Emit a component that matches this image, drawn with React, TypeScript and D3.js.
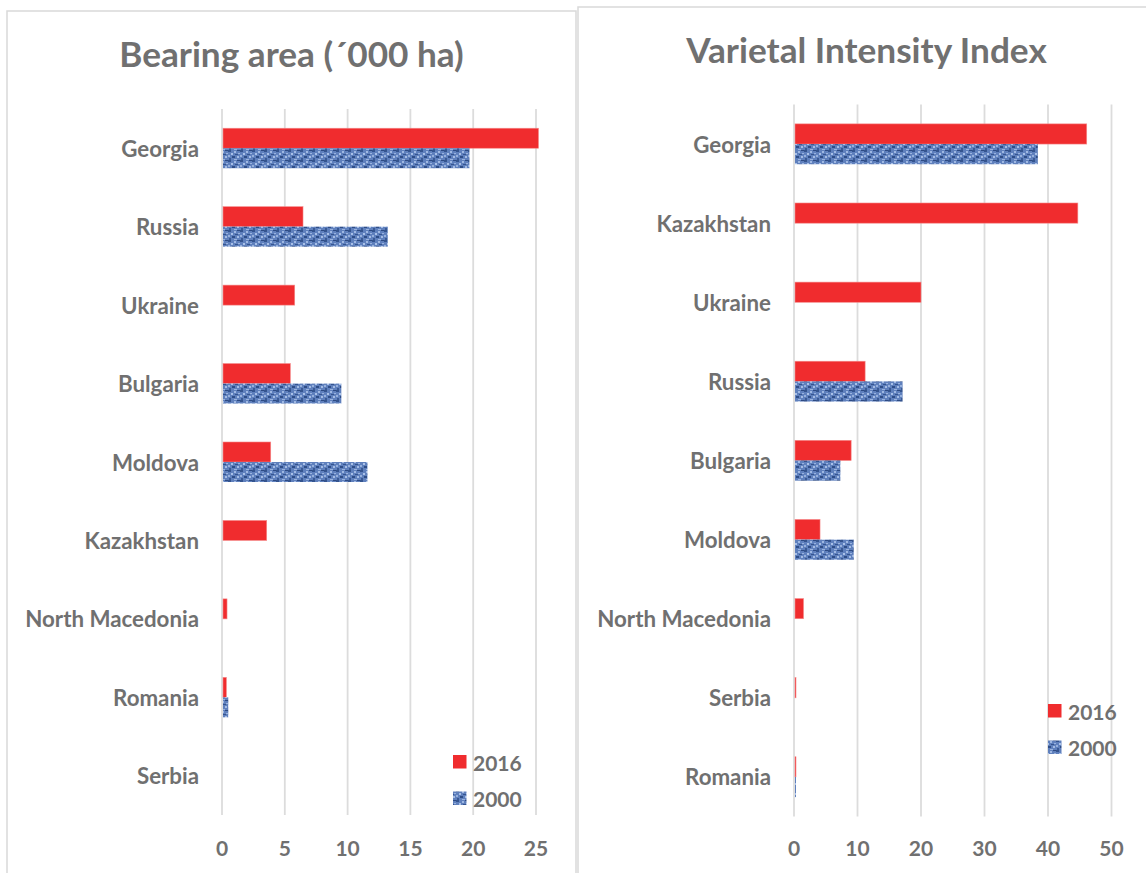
import React from "react";
import * as d3 from "d3";

const leftTitle = "Bearing area (´000 ha)";
const leftCategories = ["Georgia", "Russia", "Ukraine", "Bulgaria", "Moldova", "Kazakhstan", "North Macedonia", "Romania", "Serbia"];
const left2016 = [25.2, 6.45, 5.79, 5.44, 3.88, 3.56, 0.4, 0.35, 0];
const left2000 = [19.7, 13.2, 0, 9.5, 11.58, 0, 0, 0.5, 0];
const leftTicks = [0, 5, 10, 15, 20, 25];

const rightTitle = "Varietal Intensity Index";
const rightCategories = ["Georgia", "Kazakhstan", "Ukraine", "Russia", "Bulgaria", "Moldova", "North Macedonia", "Serbia", "Romania"];
const right2016 = [46.1, 44.7, 20, 11.2, 9.0, 4.1, 1.5, 0.25, 0.2];
const right2000 = [38.4, 0, 0, 17.1, 7.3, 9.4, 0, 0, 0.2];
const rightTicks = [0, 10, 20, 30, 40, 50];

const seriesNames = ["2016", "2000"];

const TEXT = "#707070";
const GRID = "#dcdcdc";
const RED = "#f02c2e";
const FONT = "Lato, 'Open Sans', sans-serif";

type PanelProps = {
  frame: { x: number; y: number; w: number; h: number };
  title: string;
  titleY: number;
  titleSize: number;
  categories: string[];
  a: number[];
  b: number[];
  ticks: number[];
  x0: number;
  x1: number;
  top: number;
  bottom: number;
  labelX: number;
  tickY: number;
  legend: { x: number; y: number };
};

function Panel(p: PanelProps) {
  const xs = d3.scaleLinear().domain([p.ticks[0], p.ticks[p.ticks.length - 1]]).range([p.x0, p.x1]);
  const ys = d3.scaleBand<string>().domain(p.categories).range([p.top, p.bottom]).paddingInner(0.49).paddingOuter(0.245);
  const sub = d3.scaleBand<string>().domain(seriesNames).range([0, ys.bandwidth()]);
  const fills = ["url(#redfill)", "url(#denim)"];
  return (
    <g>
      <rect x={p.frame.x} y={p.frame.y} width={p.frame.w} height={p.frame.h} fill="#fff" stroke="#d9d9d9" strokeWidth={1.5} />
      <text x={p.frame.x + p.frame.w / 2} y={p.titleY} textAnchor="middle" fill={TEXT} fontFamily={FONT} fontWeight={700} fontSize={p.titleSize}>
        {p.title}
      </text>
      {p.ticks.map((t) => (
        <g key={t}>
          <line x1={xs(t)} x2={xs(t)} y1={p.top} y2={p.bottom} stroke={GRID} strokeWidth={1.8} />
          <text x={xs(t)} y={p.tickY} textAnchor="middle" dominantBaseline="central" fill={TEXT} fontFamily={FONT} fontWeight={700} fontSize={21}>
            {t}
          </text>
        </g>
      ))}
      {p.categories.map((c, i) => (
        <g key={c}>
          <text x={p.labelX} y={(ys(c) as number) + ys.bandwidth() / 2} textAnchor="end" dominantBaseline="central" fill={TEXT} fontFamily={FONT} fontWeight={700} fontSize={22.3}>
            {c}
          </text>
          {[p.a[i], p.b[i]].map((v, k) =>
            v > 0 ? (
              <rect
                key={k}
                x={xs(0) + 1}
                y={(ys(c) as number) + (sub(seriesNames[k]) as number)}
                width={Math.max(xs(v) - xs(0) - 1, 1)}
                height={sub.bandwidth()}
                fill={fills[k]}
                stroke={k === 0 ? "#f58a8a" : "none"}
                strokeWidth={0.6}
              />
            ) : null
          )}
        </g>
      ))}
      {seriesNames.map((s, k) => (
        <g key={s}>
          <rect x={p.legend.x} y={p.legend.y + k * 36.5} width={13.5} height={13.5} fill={fills[k]} />
          <text x={p.legend.x + 20} y={p.legend.y + k * 36.5 + 7} dominantBaseline="central" fill={TEXT} fontFamily={FONT} fontWeight={700} fontSize={21}>
            {s}
          </text>
        </g>
      ))}
    </g>
  );
}

export default function App() {
  return (
    <svg width={1146} height={873} style={{ position: "absolute", left: 0, top: 0, display: "block" }}>
      <defs>
        <pattern id="redfill" patternUnits="userSpaceOnUse" width={4} height={4}>
          <rect width={4} height={4} fill={RED} />
        </pattern>
        <pattern id="denim" patternUnits="userSpaceOnUse" width={12} height={10}>
          <rect width={12} height={10} fill="#5f80bd" />
          <rect x={0} y={0} width={3} height={2} fill="#34548f" />
          <rect x={6} y={1} width={2} height={2} fill="#9fb8e2" />
          <rect x={9} y={0} width={3} height={1} fill="#2d4a82" />
          <rect x={3} y={3} width={2} height={2} fill="#a9c1e8" />
          <rect x={7} y={4} width={3} height={1} fill="#34548f" />
          <rect x={0} y={5} width={2} height={2} fill="#96b0dc" />
          <rect x={4} y={6} width={3} height={2} fill="#2f4e88" />
          <rect x={9} y={6} width={2} height={2} fill="#a4bce4" />
          <rect x={1} y={8} width={2} height={2} fill="#3a5a95" />
          <rect x={6} y={9} width={3} height={1} fill="#9ab3de" />
          <rect x={10} y={3} width={2} height={1} fill="#9ab3de" />
        </pattern>
      </defs>
      <rect width={1146} height={873} fill="#fff" />
      <Panel
        frame={{ x: 7, y: 11, w: 569, h: 900 }}
        title={leftTitle}
        titleY={67}
        titleSize={35.2}
        categories={leftCategories}
        a={left2016}
        b={left2000}
        ticks={leftTicks}
        x0={222}
        x1={536}
        top={109}
        bottom={815}
        labelX={199}
        tickY={847}
        legend={{ x: 453, y: 755 }}
      />
      <Panel
        frame={{ x: 578, y: 7, w: 577, h: 900 }}
        title={rightTitle}
        titleY={63}
        titleSize={35.2}
        categories={rightCategories}
        a={right2016}
        b={right2000}
        ticks={rightTicks}
        x0={794}
        x1={1111.5}
        top={104.5}
        bottom={816.5}
        labelX={771}
        tickY={847}
        legend={{ x: 1048, y: 704 }}
      />
    </svg>
  );
}
